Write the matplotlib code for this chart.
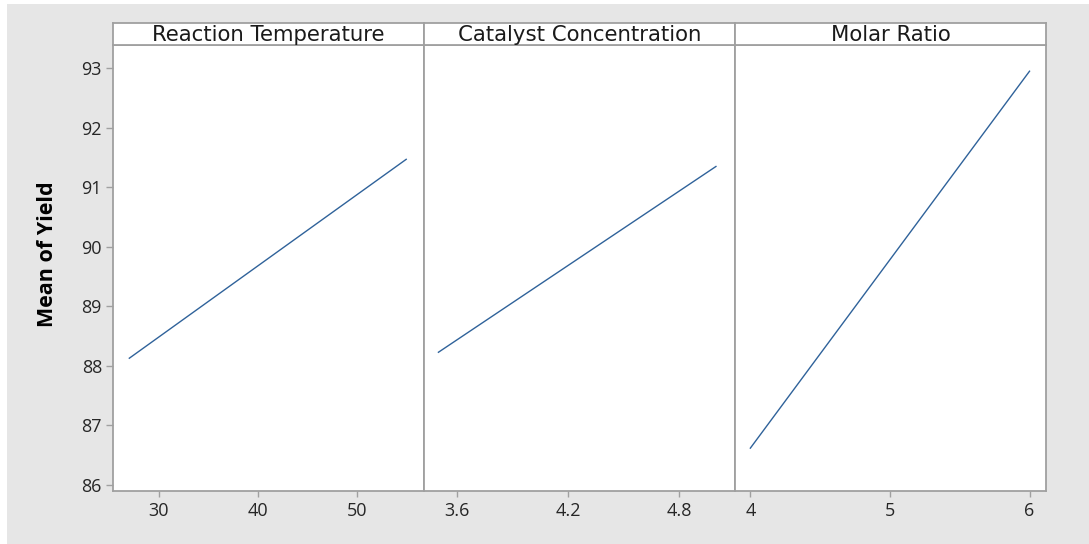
import matplotlib
matplotlib.use("Agg")
import matplotlib.pyplot as plt
from matplotlib.patches import Rectangle

plt.rcParams['font.family'] = ['Open Sans', 'DejaVu Sans']

# Main effects data
factors = ['Reaction Temperature', 'Catalyst Concentration', 'Molar Ratio']
temp_x = [27, 55]
temp_y = [88.13, 91.47]
cat_x = [3.5, 5.0]
cat_y = [88.23, 91.35]
ratio_x = [4, 6]
ratio_y = [86.62, 92.95]

temp_ticks = [30, 40, 50]
cat_ticks = [3.6, 4.2, 4.8]
ratio_ticks = [4, 5, 6]
y_ticks = [86, 87, 88, 89, 90, 91, 92, 93]

series = [(temp_x, temp_y, temp_ticks, ['30', '40', '50'], (25.35, 56.8)),
          (cat_x, cat_y, cat_ticks, ['3.6', '4.2', '4.8'], (3.422, 5.103)),
          (ratio_x, ratio_y, ratio_ticks, ['4', '5', '6'], (3.89, 6.118))]

spine_col = '#a0a0a0'
text_col = '#262626'
line_col = '#2f629a'

fig = plt.figure(figsize=(10.89, 5.44), dpi=100)
fig.patch.set_facecolor('white')
fig.patches.append(Rectangle((7 / 1089, 0), 1, 540 / 544, transform=fig.transFigure,
                             facecolor='#e6e6e6', edgecolor='none', zorder=-10))

left, right = 113 / 1089, 1046 / 1089
bottom, top = 1 - 491 / 544, 1 - 45 / 544
strip_top = 1 - 23 / 544
w = (right - left) / 3

for i, (xs, ys, ticks, labels, xlim) in enumerate(series):
    ax = fig.add_axes([left + i * w, bottom, w, top - bottom])
    ax.set_facecolor('white')
    ax.plot(xs, ys, color=line_col, lw=1.0)
    ax.set_xlim(*xlim)
    ax.set_ylim(85.9, 93.39)
    ax.set_xticks(ticks)
    ax.set_xticklabels(labels)
    for s in ax.spines.values():
        s.set_color(spine_col)
        s.set_linewidth(1.3)
    ax.tick_params(axis='x', colors=spine_col, labelcolor=text_col, length=4,
                   width=1, labelsize=13, pad=4)
    if i == 0:
        ax.set_yticks(y_ticks)
        ax.tick_params(axis='y', colors=spine_col, labelcolor=text_col, length=5,
                       width=1, labelsize=13, pad=3)
        ax.set_ylabel('Mean of Yield', fontsize=15.5, fontweight='bold',
                      color='black')
        ax.yaxis.set_label_coords(-0.178, 0.53)
    else:
        ax.set_yticks([])

    # facet strip
    sax = fig.add_axes([left + i * w, top, w, strip_top - top])
    sax.set_facecolor('white')
    sax.set_xticks([])
    sax.set_yticks([])
    for s in sax.spines.values():
        s.set_color(spine_col)
        s.set_linewidth(1.3)
    sax.text(0.5, 0.47, factors[i], ha='center', va='center', fontsize=15.3,
             family='DejaVu Sans', color='#1a1a1a', transform=sax.transAxes)

fig.savefig('out.png', dpi=100)
